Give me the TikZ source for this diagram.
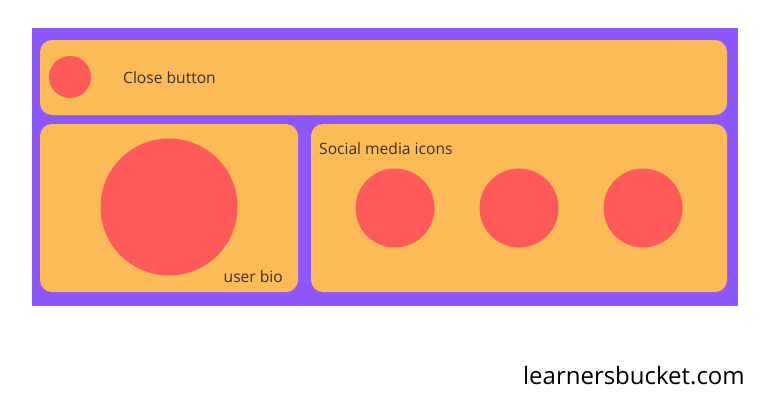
\documentclass[tikz,border=0pt]{standalone}
\usepackage{fontspec}
\setmainfont{Open Sans}
\usepackage{xcolor}
\usetikzlibrary{positioning}
\definecolor{frame}{HTML}{8E57FD}
\definecolor{panel}{HTML}{FDBB58}
\definecolor{dot}{HTML}{FE5A59}

\begin{document}
\begin{tikzpicture}[
        x=1pt, y=-1pt,
        panelbox/.style={rectangle, rounded corners=12pt, fill=panel, inner sep=0pt, minimum width=#1},
        dotnode/.style={circle, fill=dot, inner sep=0pt, minimum size=#1},
        label/.style={font=\fontsize{15.6}{18}\selectfont, text=black!80, inner sep=0pt}
    ]
        \useasboundingbox[fill=white] (0,0) rectangle (768,400);

        % Outer frame
        \node[rectangle, fill=frame, inner sep=0pt, minimum width=706pt, minimum height=278pt] (frame) at (385,167) {};

        % Panels
        \node[panelbox=687pt, minimum height=75pt] (top) at (383.5,77.5) {};
        \node[panelbox=258pt, minimum height=168pt] (bio) at (169,208) {};
        \node[panelbox=416pt, minimum height=168pt] (social) at (519,208) {};

        % Circles
        \node[dotnode=42pt] (close) at (70,77) {};
        \node[dotnode=137pt] (avatar) at (169,207) {};
        \node[dotnode=79pt] (iconA) at (395,208) {};
        \node[dotnode=79pt] (iconB) at (519,208) {};
        \node[dotnode=79pt] (iconC) at (643,208) {};

        % Labels
        \node[label, anchor=west] (closelbl) at (123,78) {Close button};
        \node[label, anchor=east] (biolbl) at (283,277) {user bio};
        \node[label, anchor=west] (sociallbl) at (319,149) {Social media icons};
        \node[font=\fontsize{24}{28}\selectfont, text=black, inner sep=0pt, anchor=east] (site) at (745,376) {learnersbucket.com};
    \end{tikzpicture}
\end{document}
